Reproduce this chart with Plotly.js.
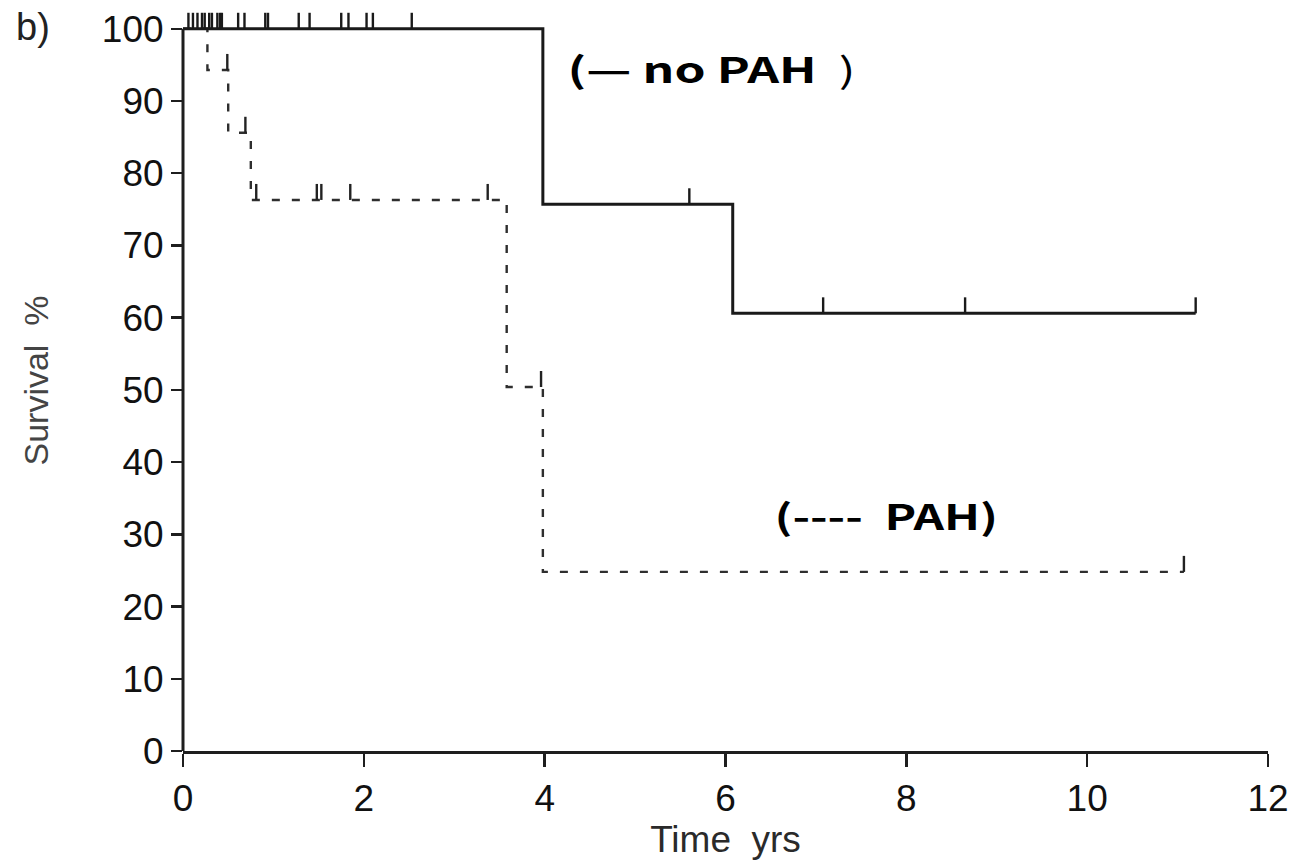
<!DOCTYPE html>
<html>
<head>
<meta charset="utf-8">
<script src="https://cdn.plot.ly/plotly-3.0.1.min.js"></script>
<style>html,body{margin:0;padding:0;background:#fff}#chart{width:1294px;height:865px}</style>
</head>
<body>
<div id="chart"></div>
<script>
// No PAH survival steps
const noPahTimes = [0, 3.98, 6.08, 11.2];
const noPahSurv = [100, 75.7, 60.6, 60.6];
const noPahCensor = [0.06, 0.11, 0.16, 0.21, 0.24, 0.29, 0.32, 0.38, 0.41, 0.43, 0.61, 0.68, 0.91, 0.94, 1.28, 1.4, 1.75, 1.83, 2.03, 2.1, 2.53, 5.6, 7.08, 8.65, 11.2];
// PAH survival steps
const pahTimes = [0, 0.27, 0.5, 0.75, 3.58, 3.98, 11.07];
const pahSurv = [100, 94.3, 85.6, 76.3, 50.4, 24.8, 24.8];
const pahCensor = [0.49, 0.69, 0.81, 1.48, 1.53, 1.85, 3.37, 3.96, 11.07];

const xTicks = [0, 2, 4, 6, 8, 10, 12];
const yTicks = [0, 10, 20, 30, 40, 50, 60, 70, 80, 90, 100];

function levelAt(times, surv, t) {
  let v = surv[0];
  for (let i = 0; i < times.length; i++) { if (times[i] <= t) v = surv[i]; }
  return v;
}
const yTop = 102.6;
const plotH = 865 - 10 - 114;
const upp = yTop / plotH; // data units per pixel
const tickPx = 16;

const traces = [
  {x: pahTimes, y: pahSurv, mode: 'lines', line: {shape: 'hv', color: '#2e2e2e', width: 2.4, dash: '8px,12px'}, hoverinfo: 'skip', showlegend: false},
  {x: noPahTimes, y: noPahSurv, mode: 'lines', line: {shape: 'hv', color: '#1a1a1a', width: 3}, hoverinfo: 'skip', showlegend: false},
  {x: noPahCensor, y: noPahCensor.map(t => levelAt(noPahTimes, noPahSurv, t) + (tickPx / 2) * upp), mode: 'markers',
   marker: {symbol: 'line-ns', size: tickPx / 1.4, line: {color: '#1a1a1a', width: 2.4}}, hoverinfo: 'skip', showlegend: false},
  {x: pahCensor, y: pahCensor.map(t => levelAt(pahTimes, pahSurv, t) + (tickPx / 2) * upp), mode: 'markers',
   marker: {symbol: 'line-ns', size: tickPx / 1.4, line: {color: '#222', width: 2.4}}, hoverinfo: 'skip', showlegend: false}
];

const tickFont = {family: 'Liberation Sans, Arial, sans-serif', size: 37, color: '#111'};
const layout = {
  width: 1294, height: 865,
  margin: {l: 183, r: 26, t: 10, b: 114},
  paper_bgcolor: '#fff', plot_bgcolor: '#fff',
  showlegend: false,
  xaxis: {range: [0, 12], tickvals: xTicks, ticktext: xTicks.map(String), ticks: 'outside', ticklen: 13, tickwidth: 2.5, tickcolor: '#1e1e1e',
          showline: true, linecolor: '#1e1e1e', linewidth: 3, showgrid: false, zeroline: false, tickfont: tickFont,
          title: {text: 'Time&nbsp;&nbsp;yrs', font: {family: 'Liberation Sans, Arial, sans-serif', size: 37, color: '#2a2a2a'}, standoff: 7}, automargin: false},
  yaxis: {range: [0, yTop], tickvals: yTicks, ticktext: yTicks.map(String), ticks: 'outside', ticklen: 11, tickwidth: 2.5, tickcolor: '#1e1e1e',
          showline: false, showgrid: false, zeroline: false, tickfont: tickFont,
          title: {text: 'Survival&nbsp;&nbsp;%', font: {family: 'Liberation Sans, Arial, sans-serif', size: 34, color: '#444'}, standoff: 42}, automargin: false},
  shapes: [
    {type: 'line', xref: 'paper', yref: 'y', x0: 0, x1: 0, y0: 0, y1: 100, line: {color: '#1e1e1e', width: 3}, layer: 'above'}
  ],
  annotations: [
    {xref: 'paper', yref: 'paper', x: (33 - 183) / 1085, y: 1 - (27 - 10) / plotH, xanchor: 'center', yanchor: 'middle', showarrow: false,
     text: 'b)', font: {family: 'Liberation Sans, Arial, sans-serif', size: 38, color: '#222'}},
    {xref: 'x', yref: 'y', x: 5.85, y: 94.6, xanchor: 'center', yanchor: 'middle', showarrow: false,
     text: '<b>(—&nbsp;no&nbsp;PAH</b>&nbsp;&nbsp;)', font: {family: 'Noto Sans CJK KR, Noto Sans, sans-serif', size: 35, color: '#000'}},
    {xref: 'x', yref: 'y', x: 7.77, y: 32.8, xanchor: 'center', yanchor: 'middle', showarrow: false,
     text: '<b>(----&nbsp;&nbsp;PAH)</b>', font: {family: 'Noto Sans CJK KR, Noto Sans, sans-serif', size: 35, color: '#000'}}
  ]
};
Plotly.newPlot('chart', traces, layout, {displayModeBar: false, staticPlot: true}).then(function () {
  const texts = document.querySelectorAll('#chart .annotation-text');
  const scales = [1, 1.42, 1.36];
  texts.forEach(function (el, i) {
    if (scales[i] && scales[i] !== 1) {
      el.style.transformBox = 'fill-box';
      el.style.transformOrigin = 'center';
      el.style.transform = 'scaleX(' + scales[i] + ')';
    }
  });
});
</script>
</body>
</html>
